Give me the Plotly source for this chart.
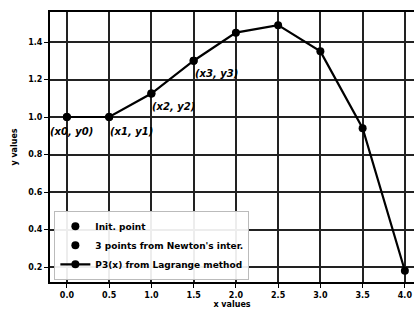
import plotly.graph_objects as go

x_vals = [0.0, 0.5, 1.0, 1.5, 2.0, 2.5, 3.0, 3.5, 4.0]
y_vals = [1.0, 1.0, 1.125, 1.30, 1.45, 1.49, 1.35, 0.94, 0.18]
init_x = [0.0]
init_y = [1.0]
newton_x = [0.5, 1.0, 1.5]
newton_y = [1.0, 1.125, 1.30]
labels = ["(x0, y0)", "(x1, y1)", "(x2, y2)", "(x3, y3)"]
label_x = [0.0, 0.5, 1.0, 1.5]
label_y = [1.0, 1.0, 1.125, 1.30]
x_ticks = [0.0, 0.5, 1.0, 1.5, 2.0, 2.5, 3.0, 3.5, 4.0]
y_ticks = [0.2, 0.4, 0.6, 0.8, 1.0, 1.2, 1.4]

fig = go.Figure()
fig.add_trace(go.Scatter(x=init_x, y=init_y, mode="markers", name="<b>Init. point</b>",
                         marker=dict(color="black", size=8)))
fig.add_trace(go.Scatter(x=newton_x, y=newton_y, mode="markers", name="<b>3 points from Newton's inter.</b>",
                         marker=dict(color="black", size=8)))
fig.add_trace(go.Scatter(x=x_vals, y=y_vals, mode="lines+markers", name="<b>P3(x) from Lagrange method</b>",
                         line=dict(color="black", width=2.2), marker=dict(color="black", size=8),
                         cliponaxis=False))

for t, lx, ly in zip(labels, label_x, label_y):
    fig.add_annotation(x=lx, y=ly, text="<i><b>" + t + "</b></i>", showarrow=False,
                       xanchor="left", yanchor="top", xshift=-19 if lx == 0 else -1,
                       yshift=-7 if ly == 1.0 else -5,
                       font=dict(size=10, color="black", family="DejaVu Sans"))

fig.update_layout(
    width=414, height=311,
    margin=dict(l=50, r=0, t=12, b=29),
    paper_bgcolor="white", plot_bgcolor="white",
    font=dict(family="DejaVu Sans", color="black", size=8),
    showlegend=True,
    legend=dict(x=0.012, y=0.008, xanchor="left", yanchor="bottom",
                bgcolor="rgba(255,255,255,0.92)", bordercolor="#bbbbbb", borderwidth=1,
                font=dict(size=9, color="black"), itemsizing="trace", itemwidth=30,
                tracegroupgap=0),
)
fig.update_xaxes(range=[-0.2, 4.108], tickvals=x_ticks, ticktext=["<b>%.1f</b>" % v for v in x_ticks],
                 showgrid=True, gridcolor="#222222", gridwidth=1.5,
                 showline=True, linecolor="black", linewidth=2, mirror=True,
                 ticks="outside", ticklen=4, tickcolor="black", zeroline=False,
                 title=dict(text="<b>x values</b>", standoff=1, font=dict(size=8)),
                 tickfont=dict(size=8, family="DejaVu Sans"))
fig.update_yaxes(range=[0.12, 1.56], tickvals=y_ticks, ticktext=["<b>%.1f</b>" % v for v in y_ticks],
                 showgrid=True, gridcolor="#222222", gridwidth=1.5,
                 showline=True, linecolor="black", linewidth=2, mirror=False,
                 ticks="outside", ticklen=4, tickcolor="black", zeroline=False,
                 title=dict(text="<b>y values</b>", standoff=9, font=dict(size=8)),
                 tickfont=dict(size=8, family="DejaVu Sans"))

fig.write_html("out.html", config={"displayModeBar": False},
               post_script="document.body.style.margin='0';document.body.style.overflow='hidden';")
